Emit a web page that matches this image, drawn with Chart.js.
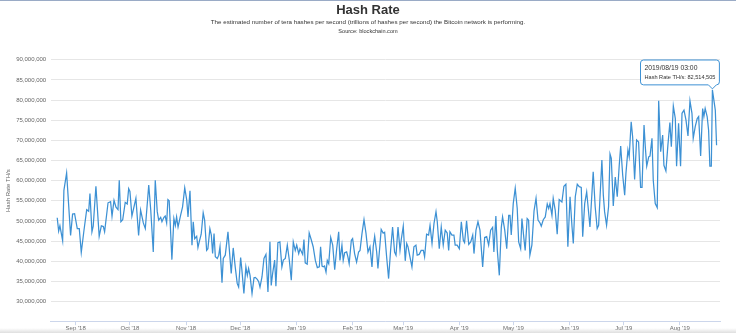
<!DOCTYPE html>
<html><head><meta charset="utf-8">
<script src="https://cdn.jsdelivr.net/npm/chart.js@4.4.1/dist/chart.umd.min.js"></script>
<style>
html,body{margin:0;padding:0;background:#fff;width:736px;height:333px;overflow:hidden;font-family:"Liberation Sans",Arial,sans-serif;}
.t{position:absolute;left:0;width:736px;text-align:center;white-space:nowrap;color:#333;}
#title{top:2px;font-size:13px;font-weight:bold;}
#sub{top:17.5px;font-size:6.2px;}
#src{top:27.5px;font-size:5.6px;}
#wrap{position:absolute;left:0;top:0;width:736px;height:333px;}
#topline{position:absolute;left:0;top:0;width:736px;height:1px;background:#9aabc6;}
#shade{position:absolute;left:0;bottom:0;width:736px;height:5px;background:linear-gradient(to bottom,rgba(220,220,220,0),rgba(215,215,215,0.8));}
</style></head><body>
<div id="wrap"><canvas id="c" width="736" height="333"></canvas></div>
<div id="topline"></div>
<div id="shade"></div>
<div class="t" id="title">Hash Rate</div>
<div class="t" id="sub">The estimated number of tera hashes per second (trillions of hashes per second) the Bitcoin network is performing.</div>
<div class="t" id="src">Source: blockchain.com</div>
<script>
// Days since 2018-09-01 and hash rate in millions of TH/s
const days = [
-10.2,-9.4,-8.7,-7.2,-6.5,-5.0,-2.8,-1.7,-0.6,0.9,2.0,3.1,4.6,6.1,7.2,7.9,9.0,9.7,11.2,13.0,
14.2,15.3,16.0,17.9,19.3,20.1,21.2,22.3,23.4,24.1,25.0,26.0,27.4,28.5,29.3,30.0,31.1,31.8,33.3,34.8,
35.9,37.4,38.5,40.4,41.5,42.9,44.0,45.1,45.9,47.0,47.7,48.8,49.5,50.3,51.0,51.7,53.2,54.3,55.1,55.8,
56.6,58.0,59.1,60.3,61.4,62.1,63.2,64.3,65.0,65.8,66.9,67.6,68.3,69.4,70.5,71.3,72.4,73.1,74.2,75.0,
75.7,76.5,77.2,78.3,79.1,79.8,80.9,81.6,82.7,84.2,84.9,86.0,87.1,88.2,89.3,90.1,91.2,91.9,93.0,94.1,
94.9,95.6,96.4,97.5,98.6,99.3,100.4,101.2,101.9,103.0,104.1,105.2,106.3,107.4,108.1,108.9,110.0,110.7,111.8,112.9,
114.0,114.8,115.9,117.0,118.1,119.2,120.3,121.4,122.2,123.3,124.0,125.5,126.2,126.9,128.0,129.1,130.2,131.3,132.5,133.6,
134.7,135.4,136.2,136.9,137.6,138.4,139.1,139.9,141.0,142.1,143.2,144.3,145.4,146.1,147.2,147.9,148.7,149.8,150.5,151.2,
152.4,153.1,154.2,155.3,156.4,157.2,158.3,159.4,160.5,161.6,162.7,163.8,164.5,165.3,166.4,167.1,168.2,168.9,170.0,170.8,
171.9,173.0,174.1,175.2,176.3,177.1,178.2,179.3,180.0,181.1,182.2,183.0,183.7,184.8,185.9,187.0,188.1,188.8,189.9,191.0,
192.2,192.9,194.0,195.1,195.9,197.0,198.1,199.2,199.9,201.0,202.1,203.2,204.3,205.4,206.2,206.9,208.0,209.1,209.8,210.9,
212.1,213.2,214.3,215.0,216.1,217.3,218.4,219.5,220.2,221.3,222.4,223.5,225.0,226.1,227.2,228.3,229.4,230.5,231.2,232.3,
233.1,234.2,235.3,236.0,237.2,238.3,239.4,240.1,240.8,241.9,243.0,244.1,244.9,246.0,246.7,247.8,248.5,249.6,250.4,251.1,
252.2,253.4,254.5,255.6,256.7,257.4,258.5,259.6,260.7,261.5,262.2,263.3,264.0,265.1,266.2,267.3,268.8,269.9,271.0,272.1,
273.3,274.4,275.1,276.2,277.3,278.4,279.5,280.3,281.4,282.5,283.2,284.3,285.4,286.1,287.2,288.3,289.1,289.8,290.9,291.7,
292.4,293.5,294.6,295.4,296.1,297.2,298.3,299.4,300.5,301.3,302.4,303.5,304.2,305.3,306.0,307.1,307.9,309.0,310.1,311.2,
312.3,313.1,314.2,314.9,315.7,316.8,317.5,318.6,319.3,320.4,321.5,322.3,323.4,324.5,325.2,326.3,327.4,328.5,329.3,330.4,
331.5,332.2,333.3,334.4,335.2,336.3,337.4,338.5,339.6,340.7,341.4,342.5,343.6,344.4,345.5,346.6,347.3,348.0,349.1,349.9,
350.6,351.4,352.0,353.6,354.3
];
const hashRateMillions = [
50.8,47.5,48.8,45.1,57.6,61.9,46.4,51.7,51.8,48.1,48.1,42.2,47.7,52.8,52.4,56.8,47.3,48.7,58.6,46.2,
48.8,48.6,47.3,54.5,54.8,51.2,55.1,53.4,52.8,60.1,49.8,50.3,54.6,54.2,58.0,57.3,51.2,52.6,55.6,46.4,
52.7,49.5,48.1,58.9,52.7,42.3,60.1,52.3,50.2,50.9,49.8,50.9,51.2,49.5,55.3,55.0,40.4,50.6,48.9,51.0,
48.5,51.4,53.5,58.2,55.2,51.0,57.5,44.0,49.8,45.6,46.2,43.4,44.8,46.7,52.0,50.2,42.7,43.1,48.1,46.5,
41.9,46.9,41.1,40.7,41.5,43.6,34.7,40.7,41.5,47.3,43.2,37.0,43.3,38.6,34.5,33.6,40.9,37.8,32.0,38.6,
36.5,38.2,36.5,32.0,35.9,36.0,35.5,34.9,33.6,36.1,40.7,41.7,32.4,44.8,34.0,37.0,40.3,33.8,44.6,44.8,
38.6,40.3,40.7,44.0,40.3,35.3,44.8,42.7,44.0,41.9,43.1,41.7,45.4,39.6,39.3,47.0,45.4,43.6,40.2,38.4,
38.6,43.6,38.8,38.6,38.8,37.3,40.2,39.4,45.9,44.0,37.9,43.1,47.3,40.2,44.0,40.2,42.1,42.3,41.1,39.4,
45.2,45.6,41.9,39.8,42.3,42.7,46.9,50.3,46.9,42.3,43.6,38.6,43.6,46.2,42.3,38.2,44.0,47.9,47.0,47.2,
41.1,35.7,42.7,48.5,42.3,41.5,48.5,42.7,45.4,48.7,40.1,44.4,43.6,41.1,38.6,43.6,44.0,41.5,41.7,42.7,
42.7,41.1,46.7,46.5,48.9,44.4,49.4,52.3,49.8,43.1,48.5,44.0,47.7,47.0,42.7,47.3,46.5,46.5,44.0,44.0,
43.1,49.8,45.2,44.6,50.0,44.2,44.8,46.5,41.9,47.7,49.8,47.7,38.6,45.9,46.1,44.0,47.7,48.4,42.3,51.2,
42.7,36.5,48.4,51.0,47.7,43.1,51.4,51.4,46.5,54.3,58.1,53.1,44.8,43.1,50.6,45.6,42.7,50.6,50.2,41.5,
44.0,52.5,55.6,50.2,49.5,48.7,50.3,51.0,54.2,53.1,54.3,51.4,55.6,52.7,46.7,55.3,54.7,58.6,59.1,43.6,
56.0,48.5,44.4,56.0,59.1,58.5,58.3,46.1,54.3,57.2,53.9,48.5,56.8,62.2,53.5,48.1,48.9,55.2,65.1,56.4,
52.3,48.9,53.5,66.6,65.5,53.7,60.9,56.0,63.8,68.6,61.4,56.4,61.8,67.6,65.9,74.6,70.9,60.3,70.1,69.6,
58.3,58.3,73.8,68.4,63.6,65.9,66.1,70.5,60.1,54.3,53.3,79.8,67.2,71.3,63.8,62.4,68.8,74.4,68.4,78.5,
75.4,63.6,74.2,63.6,76.7,77.5,75.0,71.1,79.8,76.7,70.5,73.4,75.4,75.9,66.1,77.9,75.9,77.9,75.9,72.5,
63.6,63.6,82.514505,77.5,68.8
];
// Month-start ticks (days since 2018-09-01) and their labels
const monthStartDays = [0,30,61,91,122,153,181,212,242,273,303,334];
const monthLabels = ["Sep '18","Oct '18","Nov '18","Dec '18","Jan '19","Feb '19","Mar '19","Apr '19","May '19","Jun '19","Jul '19","Aug '19"];
const yTickValues = [30,35,40,45,50,55,60,65,70,75,80,85,90];
const seriesName = 'Hash Rate TH/s';
const sampleTime = '03:00';

const LINE = '#3d91d4';
const FONT = '"Liberation Sans", Arial, sans-serif';
const points = days.map((d,i)=>({x:d, y:hashRateMillions[i]*1e6}));
const peakIdx = hashRateMillions.indexOf(Math.max(...hashRateMillions));
function pad(n){return String(n).padStart(2,'0');}
function dayToDate(d){const t=new Date(Date.UTC(2018,8,1)+Math.round(d)*86400000);return t.getUTCFullYear()+'/'+pad(t.getUTCMonth()+1)+'/'+pad(t.getUTCDate());}

const chart = new Chart(document.getElementById('c'), {
  type:'line',
  data:{datasets:[{label:seriesName,data:points,borderColor:LINE,borderWidth:1.25,pointRadius:0,pointHoverRadius:0,tension:0,fill:false}]},
  options:{
    responsive:false,animation:false,devicePixelRatio:1,
    layout:{padding:{left:0,right:16,top:59.7,bottom:0}},
    plugins:{
      legend:{display:false},
      tooltip:{
        enabled:true,yAlign:'bottom',displayColors:false,
        backgroundColor:'rgba(255,255,255,0.95)',borderColor:LINE,borderWidth:1,
        titleColor:'#333',bodyColor:'#333',
        titleFont:{family:FONT,size:6.8,weight:'normal'},bodyFont:{family:FONT,size:5.6},
        padding:4,titleMarginBottom:2,caretSize:4,caretPadding:1,cornerRadius:3,
        callbacks:{
          title:(items)=>dayToDate(items[0].parsed.x)+' '+sampleTime,
          label:(item)=>seriesName+': '+Math.round(item.parsed.y).toLocaleString('en-US')
        }
      }
    },
    scales:{
      x:{type:'linear',min:-13.8,max:356.2,
        afterBuildTicks:(s)=>{s.ticks=monthStartDays.map(v=>({value:v}));},
        afterFit:(s)=>{s.height=11.3;},
        grid:{drawOnChartArea:false,drawTicks:true,tickLength:3.5,color:'#ccd6eb'},
        border:{display:true,color:'#ccd6eb'},
        ticks:{autoSkip:false,maxRotation:0,padding:0,color:'#666',font:{family:FONT,size:6},
          callback:(v)=>{const i=monthStartDays.indexOf(v);return i>=0?monthLabels[i]:'';}}
      },
      y:{min:25e6,max:90e6,
        afterBuildTicks:(s)=>{s.ticks=[25].concat(yTickValues).map(v=>({value:v*1e6}));},
        afterFit:(s)=>{s.width=50.7;},
        grid:{color:'#e6e6e6',drawTicks:false},
        border:{display:false},
        title:{display:true,text:seriesName,color:'#666',font:{family:FONT,size:6},padding:{top:4.5,bottom:0}},
        ticks:{padding:4.5,color:'#666',font:{family:FONT,size:6},
          callback:(v)=>yTickValues.includes(v/1e6)?v.toLocaleString('en-US'):''}
      }
    }
  }
});
chart.tooltip.setActiveElements([{datasetIndex:0,index:peakIdx}],{x:0,y:0});
chart.update('none');
</script>
</body></html>
